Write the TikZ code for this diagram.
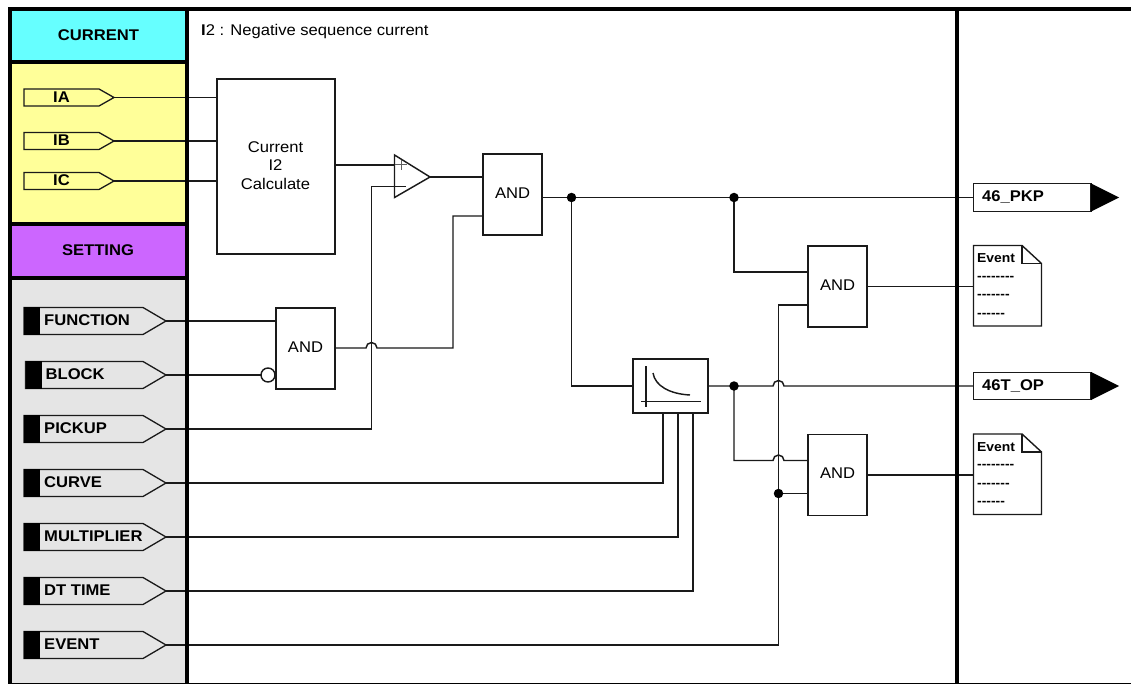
\documentclass[tikz,border=0pt]{standalone}
\usepackage{fontspec}
\setmainfont[FakeStretch=1.07]{Liberation Sans}
\newfontfamily\dashfont[FakeStretch=1.07]{Liberation Sans}
\definecolor{ln}{HTML}{1A1A1A}
\definecolor{cyanc}{HTML}{66FFFF}
\definecolor{yellowc}{HTML}{FFFF99}
\definecolor{purplec}{HTML}{CC66FF}
\definecolor{greyc}{HTML}{E5E5E5}
\tikzset{
  wire/.style={draw=ln,line width=1.45pt},
  frameline/.style={draw=black,line width=4pt},
  lbox/.style={draw=ln,line width=1.45pt,fill=white,rectangle,inner sep=0pt,outer sep=0pt},
  andbox/.style={lbox,minimum width=59,minimum height=81},
  andtext/.style={anchor=base,inner sep=0pt,font=\fontsize{15.5}{18}\selectfont},
  tagtext/.style={anchor=base west,inner sep=0pt,font=\fontsize{15.5}{18}\selectfont\bfseries},
  headtext/.style={anchor=base,inner sep=0pt,font=\fontsize{15.5}{18}\selectfont\bfseries},
  jdot/.style={circle,fill=black,inner sep=0pt,outer sep=0pt,minimum size=9.5},
  invdot/.style={circle,draw=ln,line width=1.45pt,fill=white,inner sep=0pt,outer sep=0pt,minimum size=14},
  dashtext/.style={anchor=base west,inner sep=0pt,font=\fontsize{13}{15}\dashfont\bfseries},
}
% IN tag: name, y, label
\newcommand{\intag}[4]{%
  \coordinate (#1) at (114,#2);
  \draw[draw=ln,line width=1.3pt,fill=yellowc] (24,#2-8.5) -- (99,#2-8.5) -- (#1) -- (99,#2+8.5) -- (24,#2+8.5) -- cycle;
  \node[tagtext] (#1t) at (53,#2+4.6) {#3};
}
% Setting tag: name, left x, y, label
\newcommand{\settag}[4]{%
  \coordinate (#1) at (166,#3);
  \draw[draw=ln,line width=1.3pt,fill=greyc] (#2,#3-13.5) -- (143,#3-13.5) -- (#1) -- (143,#3+13.5) -- (#2,#3+13.5) -- cycle;
  \fill[black] (#2,#3-14) rectangle (#2+16,#3+14);
  \node[tagtext] (#1t) at (#2+20,#3+4.2) {#4};
}
% Event document
\newcommand{\eventdoc}[2]{%
  \coordinate (#1) at (973.5,#2+41);
  \draw[draw=ln,line width=1.4pt,fill=white] (973.5,#2) -- (1022,#2) -- (1041.5,#2+18) -- (1041.5,#2+80.5) -- (973.5,#2+80.5) -- cycle;
  \draw[draw=ln,line width=1.4pt] (1022,#2) -- (1022,#2+18) -- (1041.5,#2+18);
  \node[dashtext] (#1a) at (977,#2+17.5) {Event};
  \node[dashtext] (#1b) at (977,#2+34.5) {--------};
  \node[dashtext] (#1c) at (977,#2+53) {-------};
  \node[dashtext] (#1d) at (977,#2+71.5) {------};
}
% Output flag
\newcommand{\outflag}[3]{%
  \node[lbox,minimum width=117.5,minimum height=27.5] (#1) at (1032.25,#2) {};
  \fill[black] (1091,#2-14) -- (1119,#2) -- (1091,#2+14) -- cycle;
  \node[tagtext] (#1t) at (982,#2+4.5) {#3};
}
\begin{document}
\begin{tikzpicture}[x=1pt,y=-1pt]
\useasboundingbox (0,0) rectangle (1131,684);
\fill[white] (0,0) rectangle (1131,684);
% column panels
\fill[cyanc] (10,10) rectangle (186,62);
\fill[yellowc] (10,62) rectangle (186,224);
\fill[purplec] (10,224) rectangle (186,278);
\fill[greyc] (10,278) rectangle (186,684);

\coordinate (jpkp) at (571.5,197.5);
\coordinate (jpk2) at (734,197.5);
\coordinate (jop) at (734,386);
\coordinate (jev) at (778.5,493.5);

\node[lbox,minimum width=118,minimum height=175] (calc) at (276,166.5) {};
\node[anchor=center,inner sep=0pt,align=center,font=\fontsize{15.5}{18.5}\selectfont] (calct) at (275.5,165.5) {Current\\I2\\Calculate};

\node[andbox] (and1) at (512.5,194.5) {};
\node[andbox] (and2) at (305.5,348.5) {};
\node[andbox] (and3) at (837.5,286.5) {};
\node[andbox] (and4) at (837.5,475) {};
\node[andtext] (and1t) at (512.5,199) {AND};
\node[andtext] (and2t) at (305.5,352.2) {AND};
\node[andtext] (and3t) at (837.5,290.2) {AND};
\node[andtext] (and4t) at (837.5,478.7) {AND};
\node[lbox,minimum width=75,minimum height=54] (tcc) at (670.5,386) {};

\coordinate (cmpa) at (394.5,155);
\coordinate (cmpb) at (394.5,197.5);
\coordinate (cmpo) at (430,177);
\coordinate (cmpp) at (394.5,165);
\coordinate (cmpm) at (406,186.5);

\intag{ia}{97.5}{IA}{}
\intag{ib}{141}{IB}{}
\intag{ic}{181}{IC}{}
\settag{fn}{24}{321}{FUNCTION}
\settag{bl}{25.5}{375}{BLOCK}
\settag{pk}{24}{429}{PICKUP}
\settag{cv}{24}{483}{CURVE}
\settag{mu}{24}{537}{MULTIPLIER}
\settag{dt}{24}{591}{DT TIME}
\settag{ev}{24}{645}{EVENT}

\outflag{pkp}{197.5}{46\_PKP}
\outflag{top}{386}{46T\_OP}
\eventdoc{evA}{245.5}
\eventdoc{evB}{434}

\node[invdot] (inv) at (268,375) {};

% connectors
\draw[wire] (ia) -- (ia -| calc.west);
\draw[wire] (ib) -- (ib -| calc.west);
\draw[wire] (ic) -- (ic -| calc.west);
\draw[wire] (calc.east |- cmpp) -- (cmpp);
\draw[wire] (fn) -- (fn -| and2.west);
\draw[wire] (bl) -- (inv.west);
\draw[wire] (pk) -- (371.5,429) -- (371.5,186.5) -- (cmpa |- cmpm);
\draw[wire] (and2.east |- 0,348) -- (366,348) arc (180:360:5.5) -- (453,348) -- (453,216) -- (and1.west |- 0,216);
\draw[wire] (cmpo) -- (cmpo -| and1.west);
\draw[wire,fill=white] (cmpa) -- (cmpo) -- (cmpb) -- cycle;
\draw[draw=ln!70,line width=1pt] (401,160) -- (401,170);
\draw[draw=ln!70,line width=1pt] (395,165) -- (407,165);
\draw[wire] (cmpa |- cmpm) -- (cmpm);
\draw[wire] (and1.east |- jpkp) -- (jpkp) -- (jpk2) -- (pkp.west);
\draw[wire] (jpkp) -- (571.5,386) -- (tcc.west);
\draw[wire] (jpk2) -- (734,272) -- (and3.west |- 0,272);
\draw[wire] (and3.east) -- (evA);
\draw[wire] (and4.east) -- (evB);
\draw[wire] (tcc.east) -- (jop) -- (773,386) arc (180:360:5.5) -- (top.west);
\draw[wire] (jop) -- (734,460.5) -- (773,460.5) arc (180:360:5.5) -- (and4.west |- 0,460.5);
\draw[wire] (ev) -- (778.5,645) -- (778.5,305) -- (and3.west |- 0,305);
\draw[wire] (jev) -- (jev -| and4.west);
\draw[wire] (cv) -- (663,483) -- (663,413);
\draw[wire] (mu) -- (678,537) -- (678,413);
\draw[wire] (dt) -- (693,591) -- (693,413);

% time-curve icon
\draw[wire] (646,366) -- (646,407);
\draw[wire] (641,401.5) -- (700.5,401.5);
\draw[wire] (653,373) .. controls (655,386) and (670,394) .. (690,395);

% junction dots
\node[jdot] (d1) at (jpkp) {};
\node[jdot] (d2) at (jpk2) {};
\node[jdot] (d3) at (jop) {};
\node[jdot] (d4) at (jev) {};

% frame
\draw[frameline] (9.5,684) -- (9.5,9) -- (1131,9);
\draw[frameline] (187,9) -- (187,684);
\draw[frameline] (956.5,9) -- (956.5,684);
\draw[frameline] (9.5,62.5) -- (187,62.5);
\draw[frameline] (9.5,224) -- (187,224);
\draw[frameline] (9.5,278) -- (187,278);
\draw[draw=black,line width=1.2pt] (9.5,683.4) -- (1131,683.4);

% headings
\node[headtext] (hcur) at (98.5,40.5) {CURRENT};
\node[headtext] (hset) at (98,255.5) {SETTING};
\node[anchor=base west,inner sep=0pt,font=\fontsize{15.5}{18}\selectfont] (title) at (201,35.5) {\textbf{I}2 : Negative sequence current};
\end{tikzpicture}
\end{document}
